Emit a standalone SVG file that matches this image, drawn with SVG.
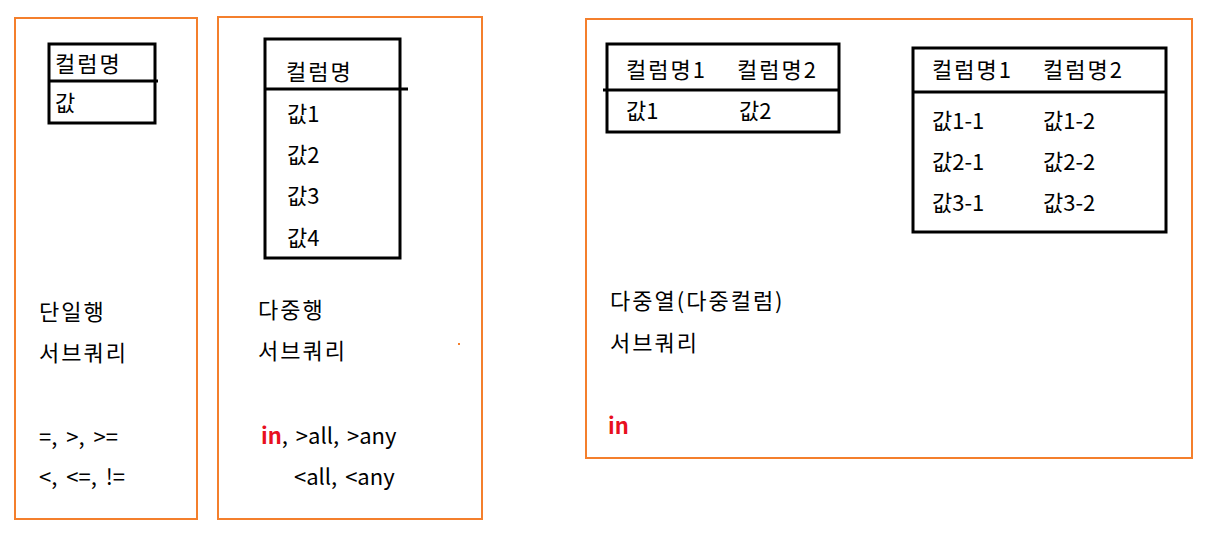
<svg xmlns="http://www.w3.org/2000/svg" width="1219" height="557" viewBox="0 0 1219 557">
<style>
.panel{fill:none;stroke:#f47f2c;stroke-width:2}
.tbl{fill:none;stroke:#000;stroke-width:3}
.ln{stroke:#000;stroke-width:3}
text{font-family:"Noto Sans CJK KR","Noto Sans",sans-serif;font-size:22px;fill:#000}
.k{letter-spacing:2px}
.red{fill:#e8101e;font-weight:bold}
</style>
<rect width="1219" height="557" fill="#fff"/>
<g id="panel-single">
<rect class="panel" x="15" y="18" width="182" height="501"/>
<rect class="tbl" x="49" y="44" width="106" height="79"/>
<line class="ln" x1="49" y1="81" x2="158" y2="81"/>
<text class="k" x="55" y="72">컬럼명</text>
<text x="55" y="111">값</text>
<text class="k" x="39" y="320">단일행</text>
<text class="k" x="39" y="361">서브쿼리</text>
<text x="39" y="445" word-spacing="4">=, &gt;, &gt;=</text>
<text x="39" y="485" word-spacing="4">&lt;, &lt;=, !=</text>
</g>
<g id="panel-multirow">
<rect class="panel" x="218" y="17" width="264" height="502"/>
<rect class="tbl" x="265" y="39" width="135" height="219"/>
<line class="ln" x1="265" y1="89" x2="408" y2="89"/>
<text class="k" x="286" y="80">컬럼명</text>
<text x="287" y="122">값1</text>
<text x="287" y="163">값2</text>
<text x="287" y="204">값3</text>
<text x="287" y="246">값4</text>
<text class="k" x="258" y="318">다중행</text>
<text class="k" x="258" y="359">서브쿼리</text>
<rect x="458" y="343" width="2" height="2" fill="#f47f2c"/>
<text x="261" y="444" word-spacing="3"><tspan class="red">in</tspan>, &gt;all, &gt;any</text>
<text x="294" y="485" word-spacing="3">&lt;all, &lt;any</text>
</g>
<g id="panel-multicol">
<rect class="panel" x="586" y="19" width="606" height="439"/>
<g id="table-a">
<rect class="tbl" x="607" y="44" width="232" height="88"/>
<line class="ln" x1="603" y1="90" x2="839" y2="90"/>
<text class="k" x="626" y="78">컬럼명1</text>
<text class="k" x="737" y="78">컬럼명2</text>
<text x="626" y="119">값1</text>
<text x="739" y="119">값2</text>
</g>
<g id="table-b">
<rect class="tbl" x="913" y="48" width="253" height="184"/>
<line class="ln" x1="913" y1="92" x2="1166" y2="92"/>
<text class="k" x="932" y="78">컬럼명1</text>
<text class="k" x="1043" y="78">컬럼명2</text>
<text x="932" y="129">값1-1</text>
<text x="1043" y="129">값1-2</text>
<text x="932" y="170">값2-1</text>
<text x="1043" y="170">값2-2</text>
<text x="932" y="211">값3-1</text>
<text x="1043" y="211">값3-2</text>
</g>
<text class="k" x="610" y="309">다중열(다중컬럼)</text>
<text class="k" x="610" y="351">서브쿼리</text>
<text class="red" x="608" y="434">in</text>
</g>
</svg>
